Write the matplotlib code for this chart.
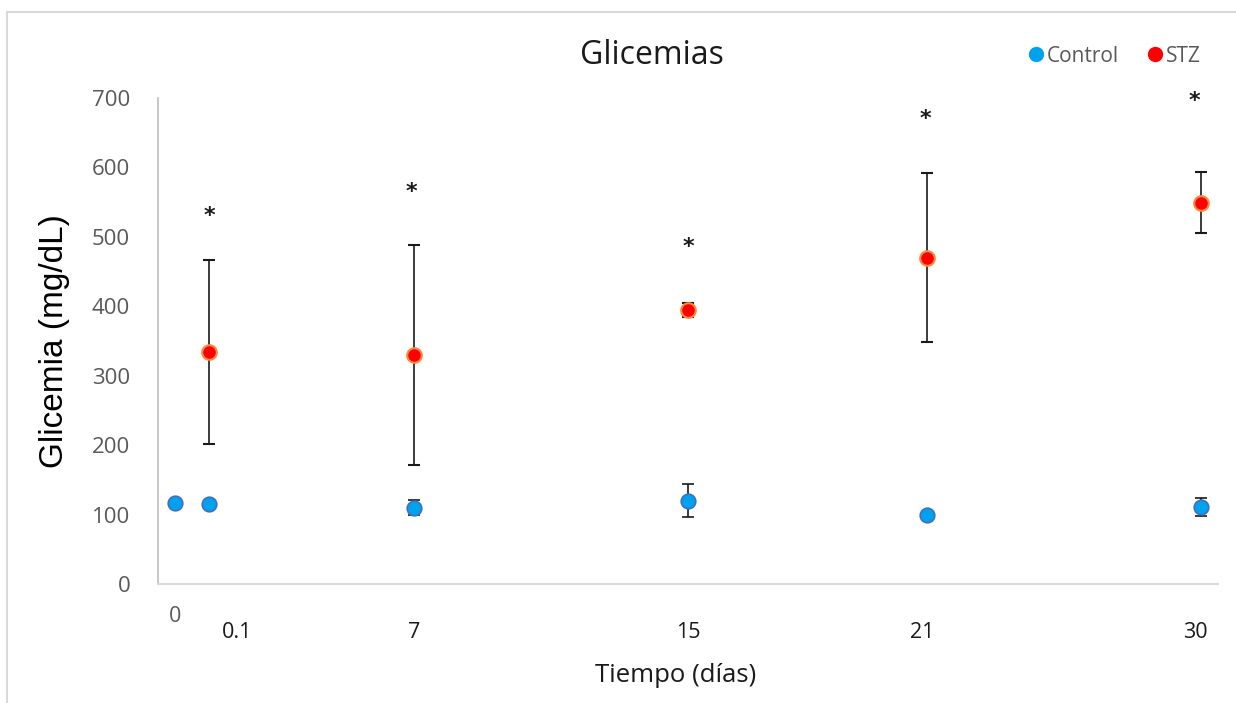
import matplotlib
matplotlib.use("Agg")
import matplotlib.pyplot as plt
from matplotlib.patches import Rectangle
from matplotlib.lines import Line2D

# data
days = [0, 1, 7, 15, 22, 30]
control_mean = [117, 115, 110, 120, 99, 111]
control_err = [0, 0, 11, 24, 0, 13]

stz_days = [1, 7, 15, 22, 30]
stz_mean = [334, 330, 395, 470, 549]
stz_err = [132, 158, 10, 122, 44]
star_y = [530, 565, 486, 670, 695]
star_x = [1, 6.9, 15, 21.95, 29.8]

tick_pos = [0, 1.8, 7, 15, 21.85, 29.85]
tick_lab = ["0", "0.1", "7", "15", "21", "30"]

plt.rcParams["font.family"] = ["Open Sans", "DejaVu Sans"]
GREY = "#595959"
CTRL_FACE, CTRL_EDGE = "#00A2EE", "#3F6FC0"
STZ_FACE, STZ_EDGE = "#FF0000", "#F58A3C"

fig = plt.figure(figsize=(12.36, 7.03), dpi=100)
# outer chart frame
fig.patches.append(Rectangle((7 / 1236, -0.1), 1.2, 1 - 12 / 703 + 0.1,
                             transform=fig.transFigure, fill=False,
                             edgecolor="#D9D9D9", lw=1.5))

ax = fig.add_axes([158 / 1236, 1 - 584 / 703, (1218 - 158) / 1236, (584 - 98) / 703])

ax.errorbar(days, control_mean, yerr=control_err, fmt="o", ms=10.5,
            mfc=CTRL_FACE, mec=CTRL_EDGE, mew=1.2, ecolor="#1a1a1a",
            elinewidth=1.2, capsize=4.5, capthick=1.2, zorder=3)
ax.errorbar(stz_days, stz_mean, yerr=stz_err, fmt="o", ms=10.5,
            mfc=STZ_FACE, mec=STZ_EDGE, mew=1.5, ecolor="#1a1a1a",
            elinewidth=1.2, capsize=4.5, capthick=1.2, zorder=3)

for x, y in zip(star_x, star_y):
    ax.text(x, y, "*", ha="center", va="center", fontsize=16,
            fontweight="bold", color="#1a1a1a", family="DejaVu Sans")

ax.set_xlim(-0.5, 30.5)
ax.set_ylim(0, 700)
ax.set_yticks(range(0, 701, 100))
ax.tick_params(axis="y", length=0, pad=20, labelsize=16, labelcolor=GREY)
ax.set_xticks([])
for s in ["top", "right"]:
    ax.spines[s].set_visible(False)
ax.spines["left"].set_color("#BFBFBF")
ax.spines["bottom"].set_color("#D9D9D9")
ax.spines["left"].set_linewidth(1.2)
ax.spines["bottom"].set_linewidth(1.5)

# hand-placed x labels like the original text boxes
for i, (p, lab) in enumerate(zip(tick_pos, tick_lab)):
    dy = -33 if i == 0 else -48
    col = GREY if i == 0 else "#1a1a1a"
    ax.annotate(lab, (p, 0), xytext=(0, dy), textcoords="offset pixels",
                ha="center", va="center", fontsize=15.5, color=col,
                annotation_clip=False)

fig.text(652 / 1236, 1 - 56 / 703, "Glicemias", fontsize=23, color="#1a1a1a",
         ha="center", va="center")
ax.set_ylabel("Glicemia (mg/dL)", fontsize=24, family="Liberation Sans",
              labelpad=16)
fig.text(676 / 1236, 1 - 676 / 703, "Tiempo (días)", fontsize=18.5,
         color="#1a1a1a", ha="center", va="center")

handles = [
    Line2D([], [], ls="none", marker="o", ms=10, mfc=CTRL_FACE, mec=CTRL_FACE),
    Line2D([], [], ls="none", marker="o", ms=10, mfc=STZ_FACE, mec=STZ_FACE),
]
fig.legend(handles, ["Control", "STZ"], loc="center",
           bbox_to_anchor=(1113 / 1236, 1 - 56 / 703), ncol=2,
           frameon=False, fontsize=15, labelcolor=GREY, handletextpad=0.05,
           columnspacing=1.2, handlelength=1.0)

fig.savefig("out.png", dpi=100)
